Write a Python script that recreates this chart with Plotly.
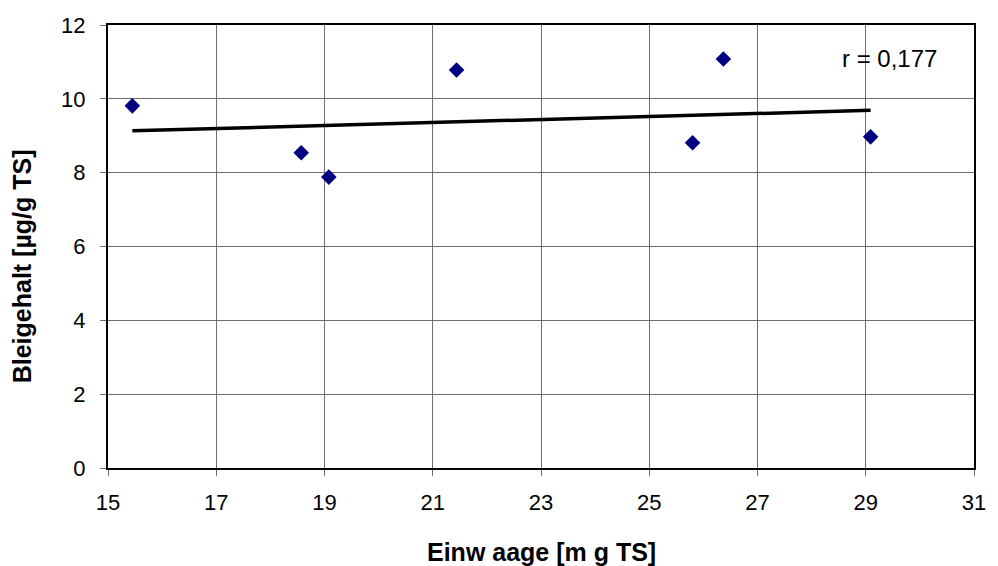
import numpy as np
import plotly.graph_objects as go

# Data
einwaage = [15.45, 18.57, 19.08, 21.44, 25.80, 26.37, 29.09]   # mg TS
bleigehalt = [9.81, 8.54, 7.88, 10.78, 8.81, 11.08, 8.97]      # µg/g TS
r_label = "r = 0,177"
x_ticks = [15, 17, 19, 21, 23, 25, 27, 29, 31]
y_ticks = [0, 2, 4, 6, 8, 10, 12]

FONT = "Liberation Sans, Arial, sans-serif"

# linear trend line computed from the data
slope, intercept = np.polyfit(einwaage, bleigehalt, 1)
trend_x = [min(einwaage), max(einwaage)]
trend_y = [slope * v + intercept for v in trend_x]

fig = go.Figure()
fig.add_trace(go.Scatter(
    x=trend_x, y=trend_y, mode="lines",
    line=dict(color="black", width=3.5), showlegend=False, hoverinfo="skip"))
fig.add_trace(go.Scatter(
    x=einwaage, y=bleigehalt, mode="markers",
    marker=dict(symbol="diamond", size=12, color="#000080",
                line=dict(width=0)),
    showlegend=False))

axis_common = dict(
    showgrid=True, gridcolor="#6e6e6e", gridwidth=1,
    showline=True, linecolor="black", linewidth=2, mirror=True,
    ticks="outside", ticklen=6, tickcolor="#6e6e6e", tickwidth=1,
    zeroline=False,
    tickfont=dict(family=FONT, size=22, color="black"),
)

fig.update_layout(
    width=998, height=566,
    margin=dict(l=108, r=15, t=25, b=98),
    paper_bgcolor="white", plot_bgcolor="white",
    xaxis=dict(range=[15, 31], tickvals=x_ticks, ticklabelstandoff=8,
               **axis_common),
    yaxis=dict(range=[0, 12], tickvals=y_ticks, ticklabelstandoff=10,
               **axis_common),
    annotations=[
        dict(text=r_label, x=28.52, y=11.08, xref="x", yref="y",
             xanchor="left", yanchor="middle", showarrow=False,
             font=dict(family=FONT, size=24, color="black")),
        dict(text="<b>Einw aage [m g TS]</b>", x=0.501, y=-0.19,
             xref="paper", yref="paper", xanchor="center", yanchor="middle",
             showarrow=False, font=dict(family=FONT, size=25, color="black")),
        dict(text="<b>Bleigehalt [µg/g TS]</b>", x=-0.0983, y=0.455,
             xref="paper", yref="paper", xanchor="center", yanchor="middle",
             textangle=-90, showarrow=False,
             font=dict(family=FONT, size=25, color="black")),
    ],
)

# remove the browser's default 8px body margin so the figure fills the window
fig.write_html(
    "out.html",
    config={"displayModeBar": False},
    post_script="document.body.style.margin='0';document.body.style.overflow='hidden';",
)
